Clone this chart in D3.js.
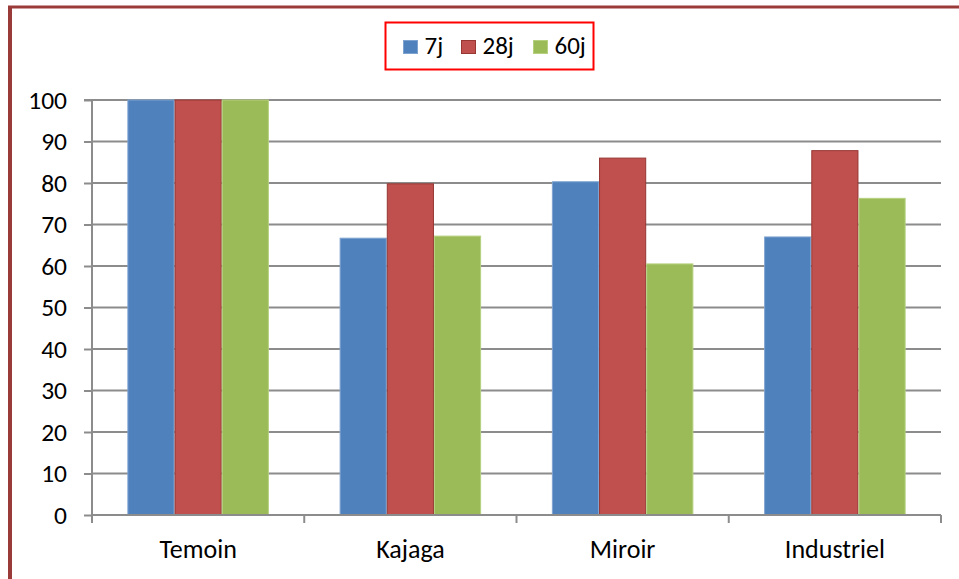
<!DOCTYPE html>
<html><head><meta charset="utf-8">
<script src="https://cdn.jsdelivr.net/npm/d3@7"></script>
<style>body{margin:0;background:#fff;} svg{display:block;}</style>
</head><body>
<script>
const categories = ["Temoin", "Kajaga", "Miroir", "Industriel"];
const seriesNames = ["7j", "28j", "60j"];
const v7j  = [100, 66.7, 80.3, 67.0];
const v28j = [100, 79.8, 86.0, 87.8];
const v60j = [100, 67.2, 60.5, 76.3];
const yTicks = [0,10,20,30,40,50,60,70,80,90,100];

const seriesValues = [v7j, v28j, v60j];
const fills = ["#4F81BD", "#C0504D", "#9BBB59"];
const strokes = ["#7FA3D0", "#963734", "#B5D07E"];

const W = 959, H = 579;
const svg = d3.select("body").append("svg").attr("width", W).attr("height", H);
const font = "Carlito, Calibri, 'Open Sans', sans-serif";

// outer border (top & left visible)
svg.append("rect").attr("x", 0).attr("y", 0).attr("width", W).attr("height", H).attr("fill", "#fff");
svg.append("line").attr("x1", 8).attr("x2", W).attr("y1", 7).attr("y2", 7).attr("stroke", "#9B3B39").attr("stroke-width", 3);
svg.append("line").attr("x1", 10).attr("x2", 10).attr("y1", 6).attr("y2", H).attr("stroke", "#9B3B39").attr("stroke-width", 4);

const x0 = 92, x1 = 941, y0 = 515, y1 = 100;
const x = d3.scaleBand().domain(categories).range([x0, x1]).paddingInner(0).paddingOuter(0);
const y = d3.scaleLinear().domain([0, 100]).range([y0, y1]);

// gridlines
svg.append("g").selectAll("line").data(yTicks.filter(d => d > 0)).join("line")
  .attr("x1", x0).attr("x2", x1).attr("y1", d => y(d)).attr("y2", d => y(d))
  .attr("stroke", "#8C8C8C").attr("stroke-width", 2);

// bars
const barW = x.bandwidth() / (3 + 1.5);
const gap = (x.bandwidth() - 3 * barW) / 2;
seriesValues.forEach((vals, si) => {
  svg.append("g").selectAll("rect").data(categories).join("rect")
    .attr("x", (c) => x(c) + gap + si * barW + 0.5)
    .attr("y", (c, i) => y(vals[i]))
    .attr("width", barW - 1)
    .attr("height", (c, i) => y0 - y(vals[i]))
    .attr("fill", fills[si])
    .attr("stroke", strokes[si]).attr("stroke-width", 1);
});

// y axis
const yAxis = d3.axisLeft(y).tickValues(yTicks).tickSize(8).tickPadding(17);
const gy = svg.append("g").attr("transform", `translate(${x0},0)`).call(yAxis);
gy.select(".domain").attr("stroke", "#8C8C8C").attr("stroke-width", 2).attr("d", `M-8,${y1}H0V${y0 + 8}`);
gy.selectAll(".tick line").attr("stroke", "#8C8C8C").attr("stroke-width", 2);
gy.selectAll("text").attr("font-family", font).attr("font-size", 25.5).attr("fill", "#000").attr("dy", "0.33em");

// x axis
const xAxis = d3.axisBottom(x).tickSize(0).tickPadding(0);
const gx = svg.append("g").attr("transform", `translate(0,${y0})`).call(xAxis);
gx.select(".domain").attr("stroke", "#8C8C8C").attr("stroke-width", 2).attr("d", `M${x0},0H${x1}`);
gx.selectAll("text").attr("font-family", font).attr("font-size", 26).attr("fill", "#000")
  .attr("dy", null).attr("y", 557.7 - y0);
const bounds = categories.map(c => x(c)).concat([x1]);
svg.append("g").selectAll("line").data(bounds).join("line")
  .attr("x1", d => d).attr("x2", d => d).attr("y1", y0).attr("y2", y0 + 8)
  .attr("stroke", "#8C8C8C").attr("stroke-width", 2);

// legend
const lg = svg.append("g");
lg.append("rect").attr("x", 385.5).attr("y", 22.5).attr("width", 208).attr("height", 47)
  .attr("fill", "#fff").attr("stroke", "#FF0000").attr("stroke-width", 2);
const legX = [403.5, 461.5, 533.5];
seriesNames.forEach((n, i) => {
  lg.append("rect").attr("x", legX[i]).attr("y", 40.5).attr("width", 14).attr("height", 13)
    .attr("fill", fills[i]).attr("stroke", strokes[i]).attr("stroke-width", 1);
  lg.append("text").attr("x", legX[i] + 21).attr("y", 54).text(n)
    .attr("font-family", font).attr("font-size", 25).attr("fill", "#000");
});
</script>
</body></html>
